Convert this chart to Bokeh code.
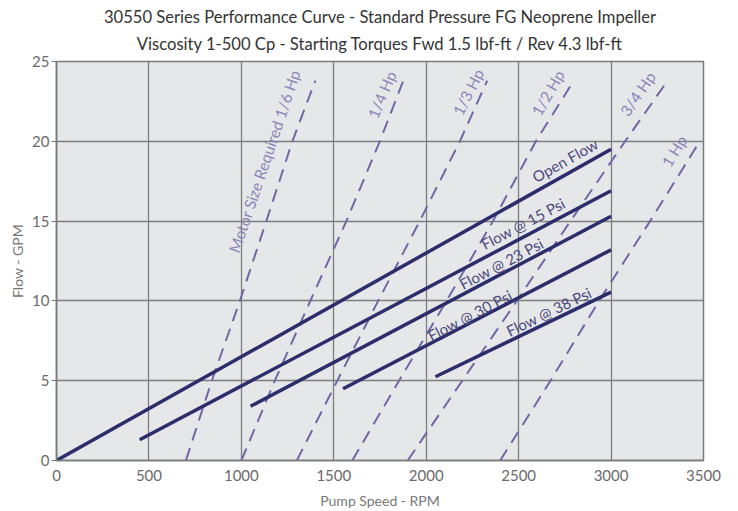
import math
from bokeh.plotting import figure
from bokeh.models import Title, FixedTicker
from bokeh.core.properties import value
from bokeh.embed import file_html
from bokeh.resources import INLINE

FONT = "Lato"

title_line1 = "30550 Series Performance Curve - Standard Pressure FG Neoprene Impeller"
title_line2 = "Viscosity 1-500 Cp - Starting Torques Fwd 1.5 lbf-ft / Rev 4.3 lbf-ft"
x_label = "Pump Speed - RPM"
y_label = "Flow - GPM"
x_ticks = [0, 500, 1000, 1500, 2000, 2500, 3000, 3500]
y_ticks = [0, 5, 10, 15, 20, 25]

# Flow curves (RPM, GPM)
flow_names = ["Open Flow", "Flow @ 15 Psi", "Flow @ 23 Psi", "Flow @ 30 Psi", "Flow @ 38 Psi"]
flow_rpm_start = [0, 450, 1050, 1550, 2050]
flow_gpm_start = [0.0, 1.3, 3.4, 4.5, 5.25]
flow_rpm_end = [3000, 3000, 3000, 3000, 3000]
flow_gpm_end = [19.5, 16.9, 15.3, 13.2, 10.55]
flow_label_rpm = [2580, 2303, 2185, 2014, 2438]
flow_label_gpm = [17.7, 13.5, 11.0, 7.77, 8.08]

# Motor size curves (dashed)
motor_names = ["Motor Size Required 1/6 Hp", "1/4 Hp", "1/3 Hp", "1/2 Hp", "3/4 Hp", "1 Hp"]
motor_gpm = [0, 5, 10, 15, 20, 23.8]
motor_gpm_1hp = [0, 5, 10, 15, 20]
hp_1_6 = [700, 840, 992, 1135, 1276, 1400]
hp_1_4 = [1000, 1181, 1373, 1568, 1749, 1876]
hp_1_3 = [1300, 1519, 1740, 1965, 2182, 2330]
hp_1_2 = [1600, 1853, 2110, 2361, 2593, 2798]
hp_3_4 = [1900, 2195, 2490, 2780, 3076, 3306]
hp_1 = [2400, 2672, 2935, 3211, 3480]
motor_label_rpm = [958, 1708, 2167, 2591, 3069, 3294]
motor_label_gpm = [13.06, 21.5, 21.7, 21.7, 21.7, 18.5]

X_MAX, Y_MAX = 3500, 25
FRAME_W, FRAME_H = 647, 400
SX, SY = FRAME_W / X_MAX, FRAME_H / Y_MAX

def screen_angle(x0, y0, x1, y1):
    return math.atan2((y1 - y0) * SY, (x1 - x0) * SX)

p = figure(width=730, height=511, x_range=(0, X_MAX), y_range=(0, Y_MAX),
           output_backend="svg", toolbar_location=None,
           min_border_left=56, min_border_right=27, min_border_top=61, min_border_bottom=50,
           background_fill_color="#e6e7e9", border_fill_color="white")

p.add_layout(Title(text=title_line2, align="center", text_font=FONT, text_font_size="16.6px",
                   text_font_style="normal", text_color="#333333", standoff=15), "above")
p.add_layout(Title(text=title_line1, align="center", text_font=FONT, text_font_size="16.6px",
                   text_font_style="normal", text_color="#333333", standoff=-4), "above")

p.outline_line_color = "#7a7a7a"
p.outline_line_width = 1.5
p.grid.grid_line_color = "#7d7d7d"
p.grid.grid_line_width = 1.3
p.xaxis.ticker = FixedTicker(ticks=x_ticks)
p.yaxis.ticker = FixedTicker(ticks=y_ticks)
for ax in (p.xaxis, p.yaxis):
    ax.axis_line_color = "#7a7a7a"
    ax.axis_line_width = 1.5
    ax.major_tick_line_color = "#7a7a7a"
    ax.minor_tick_line_color = None
    ax.major_label_text_font = FONT
    ax.major_label_text_font_size = "15px"
    ax.major_label_text_color = "#6a6a6a"
    ax.axis_label_text_font = FONT
    ax.axis_label_text_font_size = "14px"
    ax.axis_label_text_color = "#777777"
    ax.axis_label_text_font_style = "normal"
    ax.major_tick_in = 0
p.xaxis.major_tick_out = 0
p.yaxis.major_tick_out = 5
p.xaxis.axis_label = x_label
p.yaxis.axis_label = y_label
p.xaxis.major_label_standoff = 9
p.xaxis.axis_label_standoff = 8
p.yaxis.major_label_standoff = 2
p.yaxis.axis_label_standoff = 3

# Motor dashed lines
motor_series = [(hp_1_6, motor_gpm), (hp_1_4, motor_gpm), (hp_1_3, motor_gpm),
                (hp_1_2, motor_gpm), (hp_3_4, motor_gpm), (hp_1, motor_gpm_1hp)]
for rpm, gpm in motor_series:
    p.line(rpm, gpm, line_dash="13 8", line_width=2, line_color="#6e69a6")

for (rpm, gpm), name, lx, ly in zip(motor_series, motor_names, motor_label_rpm, motor_label_gpm):
    ang = screen_angle(rpm[0], gpm[0], rpm[-1], gpm[-1])
    p.text(x=[lx], y=[ly], text=[name], angle=ang, text_font=value(FONT),
           text_font_size="15.5px", text_color="#8a86b8", text_align="left",
           text_baseline="alphabetic")

# Flow lines
for x0, y0, x1, y1 in zip(flow_rpm_start, flow_gpm_start, flow_rpm_end, flow_gpm_end):
    p.line([x0, x1], [y0, y1], line_width=3.5, line_color="#2c2d6b")

for x0, y0, x1, y1, name, lx, ly in zip(flow_rpm_start, flow_gpm_start, flow_rpm_end,
                                        flow_gpm_end, flow_names, flow_label_rpm, flow_label_gpm):
    ang = screen_angle(x0, y0, x1, y1)
    p.text(x=[lx], y=[ly], text=[name], angle=ang, text_font=value(FONT),
           text_font_size="15px", text_color="#4a4a7c", text_align="left",
           text_baseline="alphabetic")

open("out.html", "w").write(file_html(p, INLINE))
